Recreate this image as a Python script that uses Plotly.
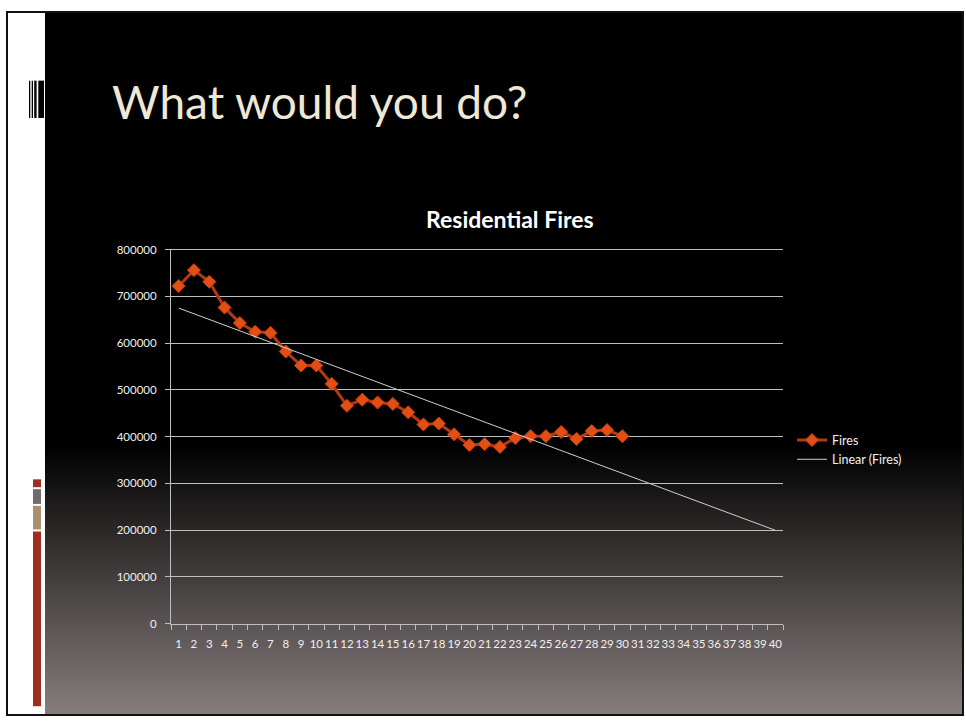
import numpy as np
import plotly.graph_objects as go

# ---- data ----
categories = [str(i) for i in range(1, 41)]
fire_x = [str(i) for i in range(1, 31)]
fires = [722000, 756000, 731000, 676000, 643000, 624000, 622000, 582000, 552000, 552000,
         513000, 466000, 479000, 473000, 470000, 452000, 426000, 428000, 405000, 382000,
         384000, 378000, 397000, 401000, 401000, 410000, 395000, 412000, 414000, 401000]
y_ticks = [0, 100000, 200000, 300000, 400000, 500000, 600000, 700000, 800000]
chart_title = "Residential Fires"
slide_title = "What would you do?"

# linear trendline (Excel "Linear (Fires)" with forward forecast to 40)
xs = np.arange(1, len(fires) + 1)
slope, intercept = np.polyfit(xs, fires, 1)
trend = [slope * i + intercept for i in range(1, 41)]

W, H = 966, 723


def px(x):
    return x / W


def py(y):
    return 1 - y / H


fig = go.Figure()

fig.add_trace(go.Scatter(
    x=fire_x, y=fires, name="Fires", mode="lines+markers",
    line=dict(color="#B33A10", width=3),
    marker=dict(symbol="diamond", size=10, color="#E24E14",
                line=dict(color="#C9420F", width=1)),
))
fig.add_trace(go.Scatter(
    x=categories, y=trend, name="Linear (Fires)", mode="lines",
    line=dict(color="#D0D0D0", width=1),
))

shapes = []
# black panel
shapes.append(dict(type="rect", xref="paper", yref="paper", layer="below",
                   x0=px(45), x1=px(962), y0=py(720), y1=py(6),
                   fillcolor="#000000", line=dict(width=0)))
# gradient (overlapping strips, each reaching the bottom, so no seams)
g0, g1 = 445, 720
end_col = (135, 125, 125)
step = 2
for y in range(g0, g1, step):
    t = (y + step / 2 - g0) / (g1 - g0)
    c = tuple(int(round(v * t)) for v in end_col)
    shapes.append(dict(type="rect", xref="paper", yref="paper", layer="below",
                       x0=px(45), x1=px(962), y0=py(g1), y1=py(y),
                       fillcolor="rgb(%d,%d,%d)" % c, line=dict(width=0)))
# outer frame
shapes.append(dict(type="rect", xref="paper", yref="paper", layer="below",
                   x0=px(7), x1=px(963), y0=py(721), y1=py(5),
                   fillcolor="rgba(0,0,0,0)", line=dict(color="#111111", width=2)))
# barcode marks
for (a, b) in [(29, 30.3), (31.7, 33), (34.2, 36.6), (38.3, 44)]:
    shapes.append(dict(type="rect", xref="paper", yref="paper", layer="below",
                       x0=px(a), x1=px(b), y0=py(113), y1=py(75),
                       fillcolor="#000000", line=dict(width=0)))
# coloured blocks bottom-left
for (a, b, col) in [(481, 489, "#9E2E20"), (491, 506, "#6E6B6B"),
                    (508, 532, "#A89170"), (534, 712, "#9E2E20")]:
    shapes.append(dict(type="rect", xref="paper", yref="paper", layer="below",
                       x0=px(33), x1=px(41), y0=py(b), y1=py(a),
                       fillcolor=col, line=dict(width=0)))

annotations = [
    dict(text=slide_title, xref="paper", yref="paper", x=px(110), y=py(96),
         xanchor="left", yanchor="middle", showarrow=False,
         font=dict(family="Lato", size=46, color="#F0E8D6")),
    dict(text="<b>" + chart_title + "</b>", xref="paper", yref="paper",
         x=px(510), y=py(216), xanchor="center", yanchor="middle", showarrow=False,
         font=dict(family="Lato", size=23, color="#FFFFFF")),
]

fig.update_layout(
    width=W, height=H,
    margin=dict(l=0, r=0, t=0, b=0),
    paper_bgcolor="#FFFFFF",
    plot_bgcolor="rgba(0,0,0,0)",
    shapes=shapes,
    annotations=annotations,
    showlegend=True,
    legend=dict(x=px(792), y=py(451), xanchor="left", yanchor="middle",
                font=dict(family="Lato", size=12.5, color="#F0F0F0"),
                bgcolor="rgba(0,0,0,0)", itemwidth=30, tracegroupgap=6),
    xaxis=dict(
        domain=[px(171), px(783)],
        type="category", categoryorder="array", categoryarray=categories,
        range=[-0.5, 39.5],
        tickson="boundaries", ticks="outside", ticklen=5, tickcolor="#BFBFBF",
        showline=True, linecolor="#BFBFBF", linewidth=1, mirror=True,
        showgrid=False, zeroline=False,
        tickangle=0,
        tickfont=dict(family="Lato", size=11.5, color="#F0F0F0"),
        ticklabelstandoff=9,
    ),
    yaxis=dict(
        domain=[py(628), py(247)],
        range=[0, 800000], tickvals=y_ticks,
        ticktext=[str(v) for v in y_ticks],
        ticks="outside", ticklen=5, tickcolor="#BFBFBF",
        showline=True, linecolor="#BFBFBF", linewidth=1,
        showgrid=True, gridcolor="#BFBFBF", gridwidth=1,
        zeroline=False,
        tickfont=dict(family="Lato", size=11.5, color="#F0F0F0"),
        ticklabelstandoff=6,
    ),
)

post = (
    "document.documentElement.style.margin='0';"
    "document.documentElement.style.overflow='hidden';"
    "document.body.style.margin='0';"
    "document.body.style.overflow='hidden';"
    "var gd=document.getElementById('{plot_id}');"
    "gd.style.position='absolute';gd.style.left='0px';gd.style.top='0px';"
)

fig.write_html("out.html", config={"displayModeBar": False}, post_script=post)
